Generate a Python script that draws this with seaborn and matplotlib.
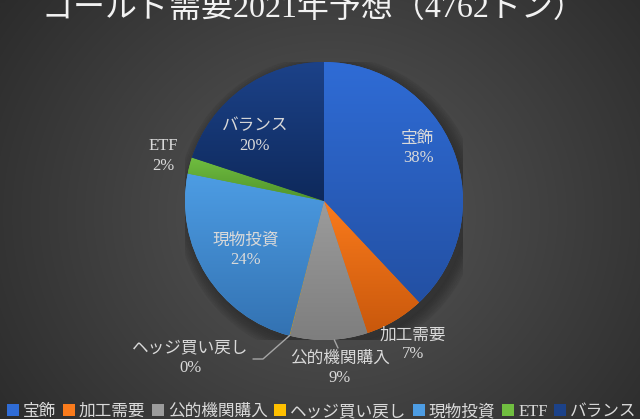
import numpy as np
import matplotlib
matplotlib.use("Agg")
import matplotlib.pyplot as plt
import seaborn as sns
from matplotlib.patches import Patch

sns.set_theme(style="dark")
plt.rcParams['font.family'] = ['Liberation Serif', 'Noto Sans CJK JP', 'DejaVu Sans']

# ---- data ----
title = "ゴールド需要2021年予想（4762トン）"
categories = ["宝飾", "加工需要", "公的機関購入", "ヘッジ買い戻し", "現物投資", "ETF", "バランス"]
tonnes = [1810, 330, 430, 2, 1150, 90, 950]
pct_labels = ["38%", "7%", "9%", "0%", "24%", "2%", "20%"]
colors_top = ["#2f6cd6", "#fa7b1c", "#9c9c9c", "#ffc000", "#4d9de4", "#70be40", "#1c4289"]
colors_bot = ["#2350a3", "#c9580c", "#7e7e7e", "#e0a800", "#3372b2", "#50932b", "#0e295b"]

W, H, DPI = 640, 419, 100
fig = plt.figure(figsize=(W / DPI, H / DPI), dpi=DPI)

# background radial gradient
bg = fig.add_axes([0, 0, 1, 1], zorder=-10)
yy, xx = np.mgrid[0:H, 0:W]
d = np.sqrt((xx - 330) ** 2 + ((yy - 215) * 1.1) ** 2) / 400.0
d = np.clip(d, 0, 1)
v = (0x58 * (1 - d) + 0x2c * d) / 255.0
bg.imshow(np.dstack([v, v, v]), extent=[0, W, H, 0], aspect='auto')
bg.set_axis_off()

# pie axes
cx, cy, R = 324, 201, 139
ax = fig.add_axes([(cx - R) / W, (H - cy - R) / H, 2 * R / W, 2 * R / H])
ax.set_facecolor((0, 0, 0, 0))

# soft shadow
for k in range(8):
    sh = plt.Circle((0.03, -0.04), 1.0 + 0.012 * k, color='black', alpha=0.035, zorder=0)
    ax.add_patch(sh)

wedges, _ = ax.pie(tonnes, startangle=90, counterclock=False, radius=1.0,
                   colors=colors_top, wedgeprops=dict(linewidth=0))
for w, ct, cb in zip(wedges, colors_top, colors_bot):
    ext = w.get_path().get_extents()
    cmap = sns.blend_palette([cb, ct], as_cmap=True)
    grad = np.linspace(0, 1, 256).reshape(-1, 1)
    im = ax.imshow(grad, extent=[ext.x0, ext.x1, ext.y0, ext.y1], origin='lower',
                   cmap=cmap, aspect='auto', zorder=2, interpolation='bilinear')
    im.set_clip_path(w)
    w.set_zorder(1)

ax.set_xlim(-1, 1)
ax.set_ylim(-1, 1)
ax.set_axis_off()

def px2d(px, py):
    return (px - cx) / R, (cy - py) / R

label_px = [(418, 148), (413, 345), (340, 368), (190, 358), (246, 250), (163, 156), (255, 136)]
for name, p, pos in zip(categories, pct_labels, label_px):
    x, y = px2d(*pos)
    ax.text(x, y, f"{name}\n{p}", ha='center', va='center', fontsize=12,
            color='#d9d9d9', linespacing=1.25, zorder=5)

# leader lines
def wedge_mid(i):
    w = wedges[i]
    a = np.deg2rad((w.theta1 + w.theta2) / 2)
    return np.cos(a), np.sin(a)

x0, y0 = wedge_mid(3)
x1, y1 = px2d(263, 359)
x2, y2 = px2d(253, 359)
ax.plot([x0, x1, x2], [y0, y1, y2], color='#a6a6a6', lw=1, zorder=4, clip_on=False)
x0, y0 = wedge_mid(2)
x1, y1 = px2d(338, 348)
ax.plot([x0 + 0.04, x1], [y0, y1], color='#a6a6a6', lw=1, zorder=4, clip_on=False)

fig.text(0.49, 1 - 9 / H, title, ha='center', va='center', fontsize=23, color='#f2f2f2')

handles = [Patch(facecolor=c, edgecolor='none') for c in colors_top]
leg = fig.legend(handles, categories, loc='center left', bbox_to_anchor=(-0.012, 1 - 412 / H),
                 ncol=7, fontsize=12, frameon=False, handlelength=0.7, handleheight=0.7,
                 handletextpad=0.25, columnspacing=0.4, labelcolor='#d9d9d9')

fig.savefig("out.png", dpi=DPI)
